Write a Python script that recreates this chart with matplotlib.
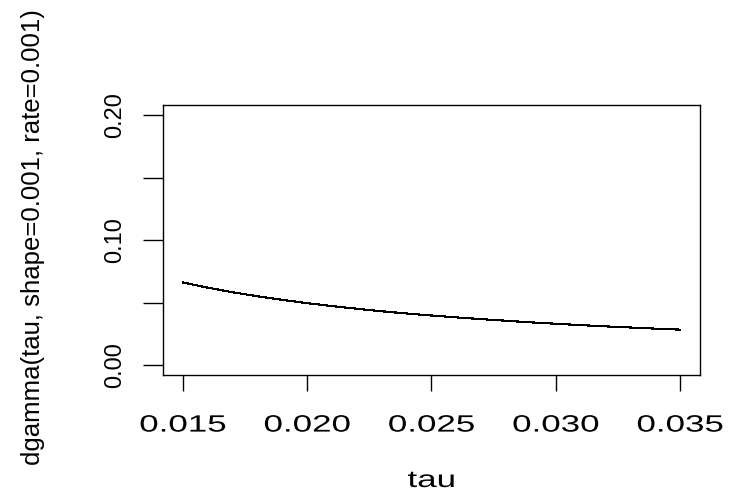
import matplotlib
matplotlib.use("Agg")
import matplotlib.pyplot as plt
from matplotlib.patheffects import AbstractPathEffect
from matplotlib.transforms import Affine2D

# data
tau = [0.015, 0.016, 0.017, 0.018, 0.019, 0.020, 0.021, 0.022, 0.023, 0.024,
       0.025, 0.026, 0.027, 0.028, 0.029, 0.030, 0.031, 0.032, 0.033, 0.034, 0.035]
density = [0.0660, 0.0619, 0.0582, 0.0550, 0.0521, 0.0495, 0.0471, 0.0450, 0.0430, 0.0412,
           0.0396, 0.0381, 0.0367, 0.0354, 0.0341, 0.0330, 0.0319, 0.0309, 0.0300, 0.0291, 0.0283]
xticks = [0.015, 0.020, 0.025, 0.030, 0.035]
xticklabels = ["0.015", "0.020", "0.025", "0.030", "0.035"]
yticks = [0.00, 0.05, 0.10, 0.15, 0.20]
yticklabels = ["0.00", "", "0.10", "", "0.20"]
xlabel = "tau"
ylabel = "dgamma(tau, shape=0.001, rate=0.001)"

plt.rcParams['font.family'] = ['Liberation Sans', 'DejaVu Sans']


class HStretch(AbstractPathEffect):
    """Stretch rendered text horizontally about its centre."""
    def __init__(self, sx):
        super().__init__()
        self.sx = sx

    def draw_path(self, renderer, gc, tpath, affine, rgbFace=None):
        ext = tpath.get_extents(affine)
        cx = 0.5 * (ext.x0 + ext.x1)
        new = affine + Affine2D().translate(-cx, 0).scale(self.sx, 1).translate(cx, 0)
        renderer.draw_path(gc, tpath, new, rgbFace)


W, H = 741, 494
fig = plt.figure(figsize=(W / 100, H / 100), dpi=100)
L, R, T, B = 163, 700, 105, 375
ax = fig.add_axes([L / W, 1 - B / H, (R - L) / W, (B - T) / H])

ax.plot(tau, density, color='black', lw=0.8, antialiased=False)

xr = max(tau) - min(tau)
ax.set_xlim(min(tau) - 0.04 * xr, max(tau) + 0.04 * xr)
ax.set_ylim(0 - 0.04 * 0.2, 0.2 + 0.04 * 0.2)

for s in ax.spines.values():
    s.set_linewidth(1.0)
    s.set_color('black')

ax.set_xticks(xticks)
ax.set_xticklabels(xticklabels)
ax.set_yticks(yticks)
ax.set_yticklabels(yticklabels, rotation=90, va='center')

ax.tick_params(axis='x', direction='out', length=11.5, width=1.0, pad=17, labelsize=17)
ax.tick_params(axis='y', direction='out', length=14.4, width=1.0, pad=12, labelsize=17)

stretch = HStretch(1.48)
for lab in ax.get_xticklabels():
    lab.set_path_effects([stretch])

fig.text((L + R) / 2 / W, 1 - 487 / H, xlabel, ha='center', va='baseline',
         fontsize=17, path_effects=[stretch])
fig.text(33 / W, 1 - 237 / H, ylabel, ha='center', va='center',
         rotation=90, fontsize=18.5)

fig.savefig("out.png", dpi=100)
